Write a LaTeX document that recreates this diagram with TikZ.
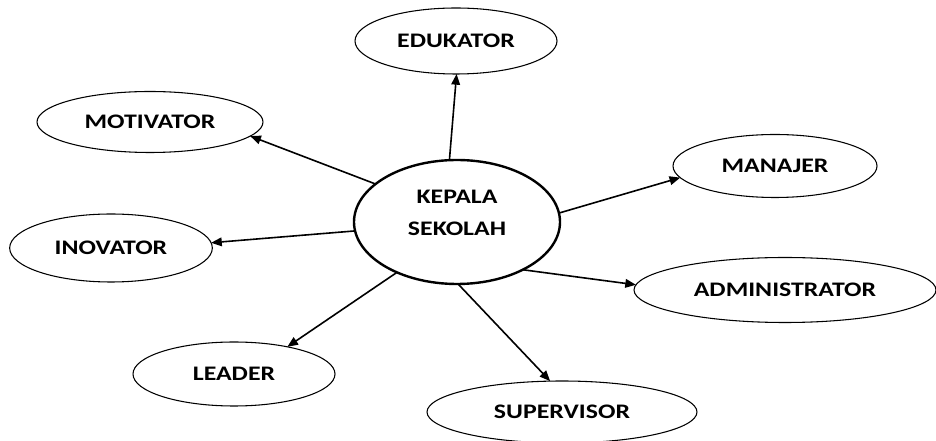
\documentclass[tikz,border=0pt]{standalone}
\usepackage{fontspec}
\setmainfont{Carlito}[FakeStretch=1.25]
\usetikzlibrary{shapes.geometric,arrows.meta}
\begin{document}
\begin{tikzpicture}[x=0.75pt,y=-0.75pt,
  role/.style={ellipse,draw,line width=0.8pt,inner sep=0pt,outer sep=0pt,
    font=\fontsize{15.5}{19}\selectfont\bfseries},
  hub/.style={ellipse,draw,line width=1.8pt,inner sep=0pt,outer sep=0pt},
  hubtext/.style={align=center,inner sep=0pt,font=\fontsize{15.5}{24}\selectfont\bfseries},
  link/.style={line width=1.2pt,-{Triangle[length=8pt,width=6.5pt]}}]
\useasboundingbox (0,0) rectangle (936,441);
\node[hub,minimum width=154.5pt,minimum height=93pt] (c) at (457,222) {};
\node[hubtext] (ct) at (457,213) {KEPALA\\SEKOLAH};
\node[role,minimum width=151.5pt,minimum height=49.5pt] (edu) at (456,41) {EDUKATOR};
\node[role,minimum width=169.5pt,minimum height=45.75pt] (mot) at (150,122) {MOTIVATOR};
\node[role,minimum width=153pt,minimum height=47.25pt] (man) at (775,166) {MANAJER};
\node[role,minimum width=152pt,minimum height=51pt] (ino) at (111,248) {INOVATOR};
\node[role,minimum width=226.5pt,minimum height=48.75pt] (adm) at (785,290) {ADMINISTRATOR};
\node[role,minimum width=151.5pt,minimum height=48pt] (lea) at (234,374) {LEADER};
\node[role,minimum width=202.5pt,minimum height=46.5pt] (sup) at (562,412) {SUPERVISOR};
\draw[link] (c.97) -- (edu.-89);
\draw[link] (c.155) -- (mot.-8);
\draw[link] (c.5) -- (man.187);
\draw[link] (c.185) -- (ino.3);
\draw[link] (c.-36) -- (adm.178);
\draw[link] (c.220) -- (lea.27);
\draw[link] (c.-89) -- (sup.111);
\end{tikzpicture}
\end{document}
